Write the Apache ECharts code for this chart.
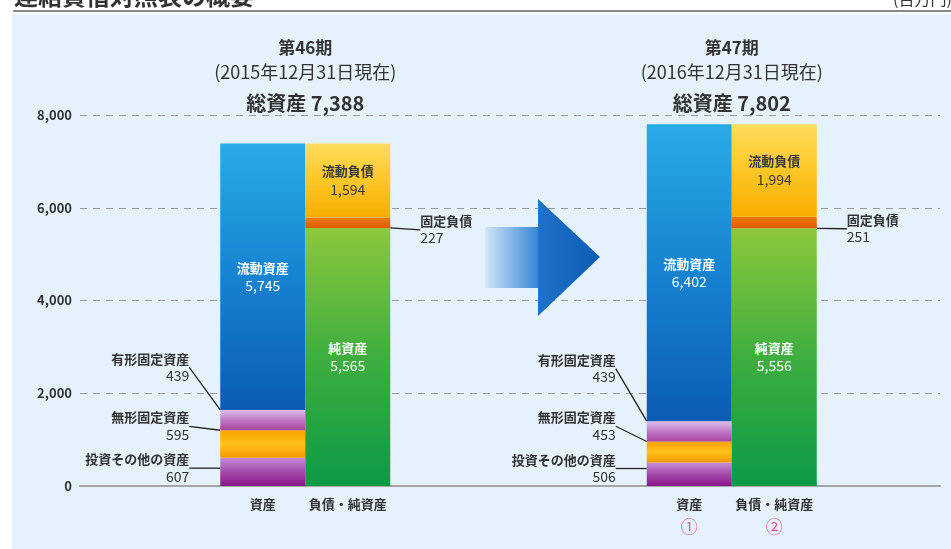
<!DOCTYPE html>
<html>
<head>
<meta charset="utf-8">
<script src="https://cdn.jsdelivr.net/npm/echarts@6/dist/echarts.min.js"></script>
<style>
  html, body { margin: 0; padding: 0; background: #fff; }
  #chart { width: 951px; height: 549px; }
</style>
</head>
<body>
<div id="chart"></div>
<script>
var periods = ['第46期', '第47期'];
var periodDates = ['(2015年12月31日現在)', '(2016年12月31日現在)'];
var totalAssets = [7388, 7802];
var barNames = ['資産', '負債・純資産'];
var barMarks = [['', ''], ['①', '②']];
var yTicks = [0, 2000, 4000, 6000, 8000];

// 資産 (下から)
var investOther = [607, 506];
var intangible = [595, 453];
var tangible = [439, 439];
var currentAssets = [5745, 6402];
// 負債・純資産 (下から)
var netAssets = [5565, 5556];
var fixedLiab = [227, 251];
var currentLiab = [1594, 1994];

var FONT = '"Noto Sans CJK JP", "Noto Sans", sans-serif';

function fmt(n) {
    return Number(n).toLocaleString('en-US');
}

function vgrad(stops) {
    return new echarts.graphic.LinearGradient(0, 0, 0, 1, stops.map(function (c, i) {
        return { offset: i / (stops.length - 1), color: c };
    }));
}

function insideLabel(color) {
    return {
        show: true,
        position: 'inside',
        formatter: function (p) {
            return '{n|' + p.seriesName + '}\n{v|' + fmt(p.value) + '}';
        },
        rich: {
            n: { color: color, fontSize: 13, fontWeight: 'bold', lineHeight: 18, fontFamily: FONT },
            v: { color: color, fontSize: 14, lineHeight: 18, fontFamily: FONT }
        }
    };
}

function sideLabel(side) {
    var align = side === 'left' ? 'right' : 'left';
    return {
        show: true,
        position: side,
        distance: 5,
        formatter: function (p) {
            return '{n|' + p.seriesName + '}\n{v|' + fmt(p.value) + '}';
        },
        rich: {
            n: { color: '#333', fontSize: 13, fontWeight: 'bold', lineHeight: 17, align: align, fontFamily: FONT },
            v: { color: '#333', fontSize: 14, lineHeight: 17, align: align, fontFamily: FONT }
        }
    };
}

// ラベルをずらす量 (dataIndex ごと)
function shift(dx, dys) {
    return function (p) {
        return { dx: dx, dy: dys[p.dataIndex] };
    };
}

function seg(name, data, stack, color, label, layout) {
    var s = {
        name: name,
        type: 'bar',
        xAxisIndex: 1,
        yAxisIndex: 1,
        stack: stack,
        data: data,
        barWidth: 85,
        barGap: '0%',
        itemStyle: { color: color },
        label: label,
        emphasis: { disabled: true }
    };
    if (layout) {
        s.labelLayout = layout;
        s.labelLine = { show: true, lineStyle: { color: '#222', width: 1.3 } };
    }
    return s;
}

var chart = echarts.init(document.getElementById('chart'));

var option = {
    animation: false,
    backgroundColor: '#e6f2fb',
    textStyle: { fontFamily: FONT },
    graphic: [
        { type: 'rect', z: 0, shape: { x: 0, y: 0, width: 951, height: 14 }, style: { fill: '#fff' } },
        { type: 'rect', z: 0, shape: { x: 0, y: 0, width: 12, height: 549 }, style: { fill: '#fff' } },
        { type: 'rect', z: 1, shape: { x: 13, y: 10, width: 938, height: 2 }, style: { fill: '#8a8a8a' } },
        {
            type: 'text', z: 2, x: 14, y: 8,
            style: { text: '連結貸借対照表の概要', font: 'bold 24px ' + FONT, fill: '#333', verticalAlign: 'bottom' }
        },
        {
            type: 'text', z: 2, x: 893, y: 7,
            style: { text: '(百万円)', font: '16px ' + FONT, fill: '#333', verticalAlign: 'bottom' }
        },
        {
            type: 'polygon', z: 1,
            shape: { points: [[485, 227], [538, 227], [538, 199], [600, 257], [538, 316], [538, 288], [485, 288]] },
            style: {
                fill: new echarts.graphic.LinearGradient(0, 0, 1, 0, [
                    { offset: 0, color: '#d3e7f8' },
                    { offset: 0.45, color: '#3b87d6' },
                    { offset: 0.47, color: '#1f70c8' },
                    { offset: 1, color: '#0b5db3' }
                ])
            }
        }
    ],
    grid: [
        { left: 80, right: 11, top: 115, bottom: 63, outerBoundsMode: 'none' },
        { left: 92, right: 6, top: 115, bottom: 63, outerBoundsMode: 'none' }
    ],
    xAxis: [
        {
            type: 'category', gridIndex: 0, data: [''],
            axisLine: { lineStyle: { color: '#a5a5a5', width: 2 } },
            axisTick: { show: false }, axisLabel: { show: false }, splitLine: { show: false }
        },
        {
            type: 'category', gridIndex: 1, data: periods, position: 'bottom',
            axisLine: { show: false }, axisTick: { show: false }, splitLine: { show: false },
            axisLabel: {
                margin: 9,
                formatter: function (v, i) {
                    var s = '{n|' + barNames[0] + '}{n|' + barNames[1] + '}';
                    if (barMarks[i][0]) {
                        s += '\n{m|' + barMarks[i][0] + '}{m|' + barMarks[i][1] + '}';
                    }
                    return s;
                },
                rich: {
                    n: { width: 85, align: 'center', fontSize: 13, fontWeight: 'bold', color: '#333', lineHeight: 18, fontFamily: FONT },
                    m: { width: 85, align: 'center', fontSize: 17, color: '#e0559e', lineHeight: 28, fontFamily: FONT }
                }
            }
        },
        {
            type: 'category', gridIndex: 1, data: periods, position: 'top',
            axisLine: { show: false }, axisTick: { show: false }, splitLine: { show: false },
            axisLabel: {
                margin: -4,
                formatter: function (v, i) {
                    return '{p|' + v + '}\n{d|' + periodDates[i] + '}\n{t|総資産 ' + fmt(totalAssets[i]) + '}';
                },
                rich: {
                    p: { fontSize: 17, fontWeight: 'bold', color: '#333', lineHeight: 18, fontFamily: FONT },
                    d: { fontSize: 18, color: '#333', lineHeight: 30, fontFamily: FONT },
                    t: { fontSize: 20, fontWeight: 'bold', color: '#333', lineHeight: 32, fontFamily: FONT }
                }
            }
        }
    ],
    yAxis: [
        {
            type: 'value', gridIndex: 0,
            min: yTicks[0], max: yTicks[yTicks.length - 1], interval: yTicks[1] - yTicks[0],
            axisLine: { show: false }, axisTick: { show: false },
            axisLabel: { margin: 8, color: '#333', fontSize: 13, fontWeight: 'bold', formatter: function (v) { return fmt(v); } },
            splitLine: { lineStyle: { color: '#9a9a9a', type: [7, 6], width: 1 } }
        },
        {
            type: 'value', gridIndex: 1,
            min: yTicks[0], max: yTicks[yTicks.length - 1], interval: yTicks[1] - yTicks[0],
            show: false, splitLine: { show: false }
        }
    ],
    series: [
        seg('投資その他の資産', investOther, 'assets', vgrad(['#c58fd6', '#a24aa8', '#8a1688']),
            sideLabel('left'), shift(-26, [-4, -6])),
        seg('無形固定資産', intangible, 'assets', vgrad(['#f6a200', '#ffc21a', '#f59800']),
            sideLabel('left'), shift(-26, [-18, -26])),
        seg('有形固定資産', tangible, 'assets', vgrad(['#dcc0ec', '#c07ac6', '#a9449f']),
            sideLabel('left'), shift(-26, [-53, -63])),
        seg('流動資産', currentAssets, 'assets', vgrad(['#29abe6', '#1683d0', '#0b5cb3']),
            insideLabel('#fff')),
        seg('純資産', netAssets, 'liab', vgrad(['#8cc83c', '#3fae3f', '#0c9a48']),
            insideLabel('#fff')),
        seg('固定負債', fixedLiab, 'liab', vgrad(['#ec7a10', '#e05a00']),
            sideLabel('right'), shift(25, [7, 6])),
        seg('流動負債', currentLiab, 'liab', vgrad(['#ffdc5e', '#fcc726', '#f7ae00']),
            insideLabel('#3a3a3a'))
    ]
};

chart.setOption(option);
</script>
</body>
</html>
